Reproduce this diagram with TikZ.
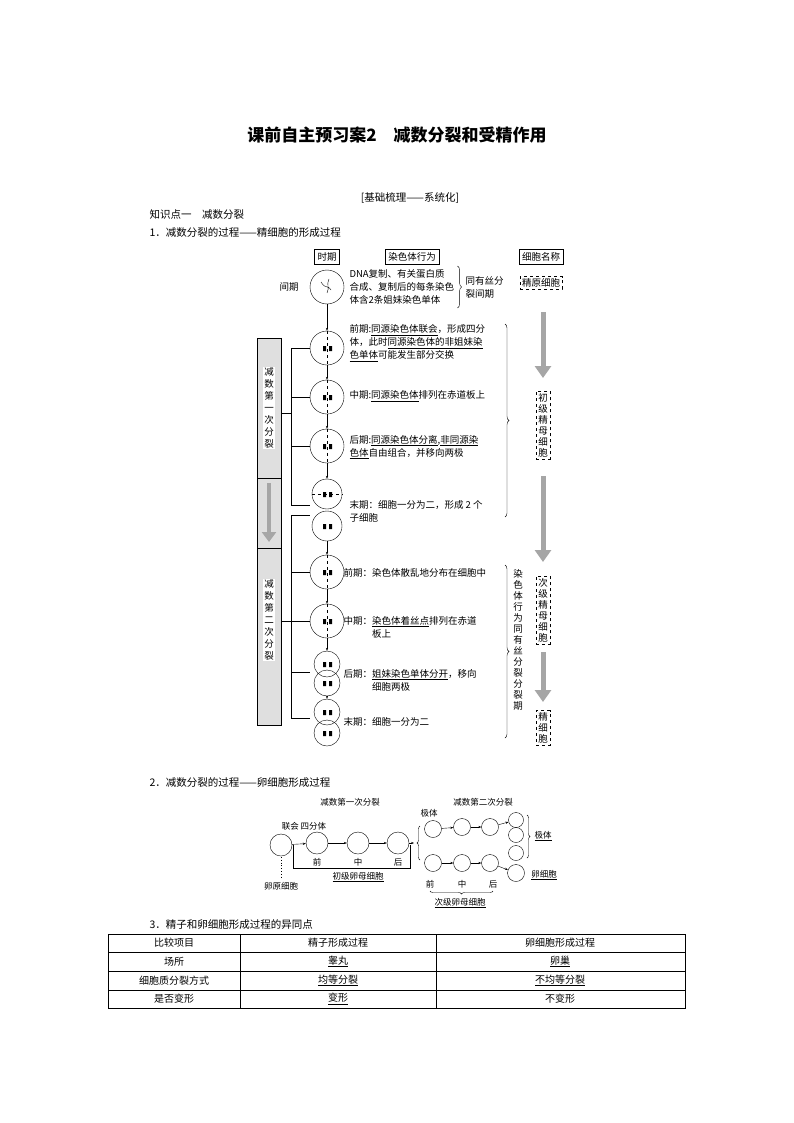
\documentclass[tikz,border=0pt]{standalone}
\usepackage{fontspec}
\setmainfont{Noto Sans CJK SC}
\usetikzlibrary{positioning,decorations.pathreplacing,arrows.meta}
\tikzset{
  cell/.style = {circle, draw, minimum size=34pt, inner sep=0pt},
  smallcell/.style = {circle, draw, minimum size=22pt, inner sep=0pt},
  headbox/.style = {draw, font=\fontsize{9.5}{10}\selectfont, inner sep=3pt},
  namebox/.style = {draw, dashed, font=\fontsize{9.5}{11}\selectfont, inner sep=2pt, align=center},
  txt/.style = {font=\fontsize{9.5}{13}\selectfont, align=left, anchor=west},
  bigarrow/.style = {draw=gray!70, line width=5pt, -{Triangle[length=12pt,width=16pt]}},
  link/.style = {-{Stealth[length=3pt]}},
}
\begin{document}
\begin{tikzpicture}[x=1pt,y=-1pt]
\useasboundingbox[fill=white] (0,0) rectangle (794,1123);
% titles
\node[font=\fontsize{17}{20}\selectfont\bfseries] (title) at (397,135) {课前自主预习案2\quad 减数分裂和受精作用};
\node[font=\fontsize{10.5}{12}\selectfont] (sub) at (410,198) {[基础梳理——系统化]};
\node[font=\fontsize{10.5}{12}\selectfont, anchor=west] (kp) at (146,215) {知识点一\quad 减数分裂};
\node[font=\fontsize{10.5}{12}\selectfont, anchor=west] (s1) at (146,233) {1．减数分裂的过程——精细胞的形成过程};
% header
\node[headbox] (hT) at (327,257) {时期};
\node[headbox] (hB) at (412,257) {染色体行为};
\node[headbox] (hN) at (541,257) {细胞名称};
% cells
\node[cell] (c0) at (327,287) {};
\node[cell] (c1) at (327,348) {};
\node[cell] (c2) at (327,397) {};
\node[cell] (c3) at (327,446) {};
\node[cell, minimum size=30pt] (c4a) at (327,494) {};
\node[cell, minimum size=30pt] (c4b) at (327,526) {};
\node[cell] (c5) at (327,572) {};
\node[cell] (c6) at (327,621) {};
\node[cell, minimum size=26pt] (c7a) at (327,664) {};
\node[cell, minimum size=26pt] (c7b) at (327,683) {};
\node[cell, minimum size=26pt] (c8a) at (327,712) {};
\node[cell, minimum size=26pt] (c8b) at (327,733) {};
\foreach \c in {c1,c2,c3,c5,c6}
  \draw[dashed] (\c.north) -- (\c.south);
\draw[dashed] (c4a.west) -- (c4a.east);
\draw (c0.center) ++(-6,-5) .. controls ++(5,8) and ++(-4,-6) .. ++(10,8)
      (c0.center) ++(2,-8) .. controls ++(-3,6) and ++(3,-6) .. ++(-2,14);
\foreach \c in {c1,c2,c3,c4a,c4b,c5,c6,c7a,c7b,c8a,c8b}
  \fill (\c.center) ++(-4,-2) rectangle ++(3,5) (\c.center) ++(2,-2) rectangle ++(3,5);
\draw[link] (c0) -- (c1);
\draw[link] (c1) -- (c2);
\draw[link] (c2) -- (c3);
\draw[link] (c3) -- (c4a);
\draw[link] (c4b) -- (c5);
\draw[link] (c5) -- (c6);
\draw[link] (c6) -- (c7a);
\draw[link] (c7b) -- (c8a);
% phase label
\node[font=\fontsize{9.5}{10}\selectfont] (ljq) at (289,287) {间期};
% texts
\node[txt] (t0) at (346,287) {DNA复制、有关蛋白质\\合成、复制后的每条染色\\体含2条姐妹染色单体};
\draw[decorate,decoration={brace,amplitude=4pt}] (t0.north east) -- (t0.south east);
\node[txt] (t0b) at (462,287) {同有丝分\\裂间期};
\node[txt] (t1) at (346,343) {前期:\underline{同源染色体联会}，形成四分\\体，此时\underline{同源染色体的非姐妹染}\\\underline{色单体}可能发生部分交换};
\node[txt] (t2) at (346,396) {中期:\underline{同源染色体}排列在赤道板上};
\node[txt] (t3) at (346,447) {后期:\underline{同源染色体分离},\underline{非同源染}\\\underline{色体}自由组合，并移向两极};
\node[txt] (t4) at (346,511) {末期：细胞一分为二，形成 2 个\\子细胞};
\node[txt] (t5) at (340,573) {前期：染色体散乱地分布在细胞中};
\node[txt] (t6) at (340,627) {中期：\underline{染色体着丝点}排列在赤道\\\phantom{中期：}板上};
\node[txt] (t7) at (340,680) {后期：\underline{姐妹染色单体分开}，移向\\\phantom{后期：}细胞两极};
\node[txt] (t8) at (340,722) {末期：细胞一分为二};
% right braces
\coordinate (b1t) at (505,324);
\coordinate (b1b) at (505,517);
\coordinate (b2t) at (505,565);
\coordinate (b2b) at (505,738);
\draw[decorate,decoration={brace,amplitude=4pt}] (b1t) -- (b1b);
\draw[decorate,decoration={brace,amplitude=4pt}] (b2t) -- (b2b);
\node[font=\fontsize{9.5}{11}\selectfont, align=center] (vt) at (518,640) {染\\色\\体\\行\\为\\同\\有\\丝\\分\\裂\\分\\裂\\期};
% left bar
\fill[gray!25] (257,338) rectangle (281,725);
\draw (257,338) rectangle (281,725) (257,478) -- (281,478) (257,548) -- (281,548);
\node[fill=white, font=\fontsize{9.5}{12}\selectfont, align=center, inner sep=1pt] (m1) at (269,408) {减\\数\\第\\一\\次\\分\\裂};
\node[fill=white, font=\fontsize{9.5}{12}\selectfont, align=center, inner sep=1pt] (m2) at (269,620) {减\\数\\第\\二\\次\\分\\裂};
\draw[draw=gray!70, line width=4pt, -{Triangle[length=10pt,width=14pt]}] (269,483) -- (269,542);
% bar connectors
\draw (281,413) -- (291,413) (291,348) -- (291,505);
\foreach \y in {348,397,446,505} \draw (291,\y) -- (310,\y);
\draw (281,621) -- (291,621) (291,515) -- (291,718);
\foreach \y in {515,572,621,672,718} \draw (291,\y) -- (310,\y);
% right column
\node[namebox] (n0) at (541,283) {精原细胞};
\node[namebox] (n1) at (543,425) {初\\级\\精\\母\\细\\胞};
\node[namebox] (n2) at (543,610) {次\\级\\精\\母\\细\\胞};
\node[namebox] (n3) at (543,728) {精\\细\\胞};
\draw[bigarrow] (543,312) -- (543,378);
\draw[bigarrow] (543,476) -- (543,562);
\draw[bigarrow] (543,652) -- (543,702);
% section 2
\node[font=\fontsize{10.5}{12}\selectfont, anchor=west] (s2) at (146,783) {2．减数分裂的过程——卵细胞形成过程};
\node[font=\fontsize{8.5}{10}\selectfont] (o1) at (350,802) {减数第一次分裂};
\node[font=\fontsize{8.5}{10}\selectfont] (o2) at (483,802) {减数第二次分裂};
\node[font=\fontsize{8.5}{10}\selectfont] (o3) at (304,826) {联会\ 四分体};
\node[smallcell] (e0) at (281,845) {};
\node[smallcell] (e1) at (317,843) {};
\node[smallcell] (e2) at (358,843) {};
\node[smallcell] (e3) at (398,843) {};
\draw[dotted, thick] (281,857) -- (281,878);
\node[font=\fontsize{8.5}{10}\selectfont] (oy) at (281,886) {卵原细胞};
\draw[link] (e0) -- (e1);
\draw[link] (e1) -- (e2);
\draw[link] (e2) -- (e3);
\coordinate (fk) at (414,843);
\draw[link] (e3) -- (fk);
\draw (293,845) -- (293,868) -- (410,868) -- (410,845);
\node[font=\fontsize{8.5}{10}\selectfont] (q1) at (317,862) {前};
\node[font=\fontsize{8.5}{10}\selectfont] (q2) at (358,862) {中};
\node[font=\fontsize{8.5}{10}\selectfont] (q3) at (398,862) {后};
\node[font=\fontsize{8.5}{10}\selectfont] (ps) at (358,877) {\underline{初级卵母细胞}};
\draw[decorate,decoration={brace,amplitude=3pt,mirror}] (420,826) -- (420,860);
\node[font=\fontsize{8.5}{10}\selectfont] (jt) at (429,813) {极体};
\node[smallcell, minimum size=17pt] (p1) at (433,829) {};
\node[smallcell, minimum size=17pt] (p2) at (462,827) {};
\node[smallcell, minimum size=17pt] (p3) at (490,827) {};
\node[smallcell, minimum size=15pt] (p4a) at (516,820) {};
\node[smallcell, minimum size=15pt] (p4b) at (516,835) {};
\node[smallcell, minimum size=17pt] (s1c) at (433,863) {};
\node[smallcell, minimum size=17pt] (s2c) at (462,863) {};
\node[smallcell, minimum size=17pt] (s3c) at (490,863) {};
\node[smallcell, minimum size=15pt] (p4c) at (516,853) {};
\node[smallcell, minimum size=17pt] (egg) at (516,873) {};
\draw[link] (p1) -- (p2);
\draw[link] (p2) -- (p3);
\draw[link] (p3) -- (p4a);
\draw[link] (s1c) -- (s2c);
\draw[link] (s2c) -- (s3c);
\draw[link] (s3c) -- (egg);
\draw[decorate,decoration={brace,amplitude=3pt}] (527,815) -- (527,858);
\node[font=\fontsize{8.5}{10}\selectfont] (jt2) at (543,836) {\underline{极体}};
\node[font=\fontsize{8.5}{10}\selectfont] (lx) at (544,875) {\underline{卵细胞}};
\node[font=\fontsize{8.5}{10}\selectfont] (r1) at (430,884) {前};
\node[font=\fontsize{8.5}{10}\selectfont] (r2) at (462,884) {中};
\node[font=\fontsize{8.5}{10}\selectfont] (r3) at (493,884) {后};
\draw[decorate,decoration={brace,amplitude=3pt,mirror}] (430,891) -- (493,891);
\node[font=\fontsize{8.5}{10}\selectfont] (cs) at (460,903) {\underline{次级卵母细胞}};
% section 3
\node[font=\fontsize{10.5}{12}\selectfont, anchor=west] (s3) at (146,925) {3．精子和卵细胞形成过程的异同点};
\draw (108,934) rectangle (685,1008);
\foreach \y in {952,971,990} \draw (108,\y) -- (685,\y);
\foreach \x in {240,436} \draw (\x,934) -- (\x,1008);
\foreach \y/\a/\b/\c in {943/比较项目/精子形成过程/卵细胞形成过程,
  961.5/场所/\underline{睾丸}/\underline{卵巢},
  980.5/细胞质分裂方式/\underline{均等分裂}/\underline{不均等分裂},
  999/是否变形/\underline{变形}/不变形} {
  \node[font=\fontsize{10}{11}\selectfont] at (174,\y) {\a};
  \node[font=\fontsize{10}{11}\selectfont] at (338,\y) {\b};
  \node[font=\fontsize{10}{11}\selectfont] at (560,\y) {\c};
}
\end{tikzpicture}
\end{document}
